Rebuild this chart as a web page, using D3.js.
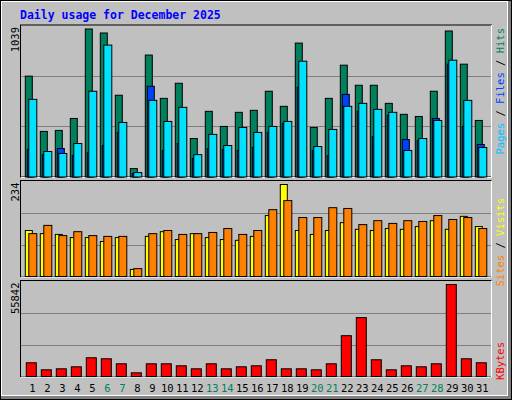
<!DOCTYPE html>
<html><head><meta charset="utf-8">
<script src="https://cdn.jsdelivr.net/npm/d3@7"></script>
<style>body{margin:0;background:#fff}svg{display:block}</style>
</head><body>
<script>
var days = d3.range(1, 32);
var weekend = [6, 7, 13, 14, 20, 21, 27, 28];
var hits  = [708,320,327,411,1039,1011,574,59,856,552,658,270,461,355,454,468,602,496,940,348,552,785,644,644,517,440,425,602,1025,792,397];
var files = [545,179,165,235,602,926,383,31,538,390,489,157,299,221,348,313,355,390,813,214,334,496,517,475,454,186,270,397,820,538,207];
var pages = [193,157,200,150,172,221,313,25,637,186,235,129,200,193,186,207,313,376,630,186,150,580,461,284,432,263,256,411,792,355,228];
var visits = [117,109,107,99,99,89,99,18,102,114,94,109,99,94,92,102,155,234,117,107,117,137,120,117,122,120,127,142,120,153,127];
var sites  = [109,130,104,114,104,102,102,20,109,117,107,109,112,122,107,117,170,193,150,150,175,173,132,142,135,142,140,155,145,150,122];
var kbytes = [8327,4061,4670,5889,11371,10763,7717,2234,7717,7717,6498,4670,7717,4670,5889,6498,10153,4670,4670,4061,7717,24774,35740,10153,4061,6498,5889,7717,55842,10763,8327];

var W = 512, H = 400;
var svg = d3.select("body").append("svg").attr("width", W).attr("height", H);
var mono = "'DejaVu Sans Mono', monospace";

// frame
svg.append("rect").attr("x", 0).attr("y", 0).attr("width", W).attr("height", H).attr("fill", "#000");
svg.append("rect").attr("x", 1).attr("y", 1).attr("width", W - 2).attr("height", H - 2).attr("fill", "#808080");
svg.append("rect").attr("x", 1).attr("y", 1).attr("width", W - 5).attr("height", H - 5).attr("fill", "#fff");
svg.append("rect").attr("x", 2).attr("y", 2).attr("width", W - 7).attr("height", H - 7).attr("fill", "#c0c0c0");

svg.append("text").attr("x", 20).attr("y", 19).attr("fill", "#0000ff")
  .attr("font-family", mono).attr("font-weight", "bold").attr("font-size", 11.5)
  .text("Daily usage for December 2025");

var x = d3.scaleLinear().domain([1, 31]).range([25.3, 475.3]);

var panels = [
  {top: 25, bottom: 177, max: 1039},
  {top: 180.5, bottom: 276.5, max: 234},
  {top: 280.5, bottom: 376.5, max: 55842}
];
panels.forEach(function(p){
  p.y = d3.scaleLinear().domain([0, p.max]).range([p.bottom, p.bottom - (p.bottom - p.top - 4)]);
  svg.append("rect").attr("x", 20.5).attr("y", p.top).attr("width", 471).attr("height", p.bottom - p.top)
    .attr("fill", "#c0c0c0").attr("stroke", "#000");
  svg.append("path").attr("d", "M21," + (p.bottom + 0.5) + "H491.5V" + p.top).attr("stroke", "#fff").attr("fill", "none");
  [1/3, 2/3].forEach(function(f){
    var gy = Math.round(p.bottom - (p.bottom - p.top) * f) + 0.5;
    svg.append("line").attr("x1", 21).attr("x2", 491).attr("y1", gy).attr("y2", gy).attr("stroke", "#808080");
  });
  svg.append("text").attr("transform", "translate(19," + (p.top + 2) + ") rotate(-90)")
    .attr("text-anchor", "end").attr("font-family", mono).attr("font-size", 10.5).attr("fill", "#000")
    .text(p.max);
});

function bars(panel, data, dx, w, color){
  var y = panels[panel].y;
  svg.append("g").selectAll("rect").data(data).enter().append("rect")
    .attr("x", function(d, i){ return x(i + 1) + dx; })
    .attr("width", w)
    .attr("y", function(d){ return y(d); })
    .attr("height", function(d){ return y(0) - y(d); })
    .attr("fill", color).attr("stroke", "#000").attr("stroke-width", 1);
}
bars(0, hits, 0, 7, "#00805c");
bars(0, pages, 2, 7, "#0040ff");
bars(0, files, 3.5, 8, "#00e0ff");
bars(1, visits, 0, 7, "#ffff00");
bars(1, sites, 3.5, 8, "#ff8000");
bars(2, kbytes, 1, 10, "#ff0000");

// x labels
svg.append("g").selectAll("text").data(days).enter().append("text")
  .attr("x", function(d){ return x(d) + 7; }).attr("y", 392)
  .attr("text-anchor", "middle").attr("font-family", mono).attr("font-size", 10.5)
  .attr("fill", function(d){ return weekend.indexOf(d) >= 0 ? "#00805c" : "#000"; })
  .text(function(d){ return d; });

// right legends
function legend(yEnd, parts){
  var t = svg.append("text").attr("transform", "translate(504," + yEnd + ") rotate(-90)")
    .attr("text-anchor", "end").attr("font-family", mono).attr("font-size", 10.5);
  parts.forEach(function(p){ t.append("tspan").attr("fill", p[1]).text(p[0]); });
}
legend(28, [["Pages", "#00c0ff"], [" / ", "#000"], ["Files", "#0040ff"], [" / ", "#000"], ["Hits", "#00805c"]]);
legend(198, [["Sites", "#ff8000"], [" / ", "#000"], ["Visits", "#ffff00"]]);
legend(342, [["KBytes", "#ff0000"]]);
</script>
</body></html>
